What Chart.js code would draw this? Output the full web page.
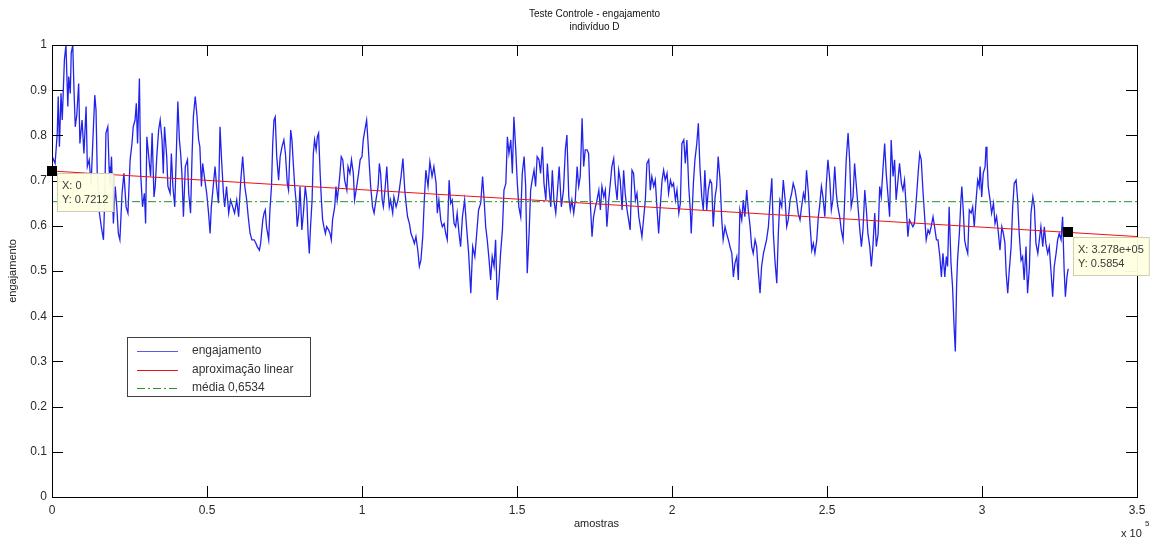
<!DOCTYPE html>
<html>
<head>
<meta charset="utf-8">
<title>Teste Controle - engajamento</title>
<script src="https://cdn.jsdelivr.net/npm/chart.js@4.4.1/dist/chart.umd.min.js"></script>
<style>
  html, body { margin: 0; padding: 0; background: #fff; }
  #grafico { display: block; }
</style>
</head>
<body>
<canvas id="grafico" width="1162" height="542"></canvas>
<script>
// [amostras em milhares, engajamento]
var engajamento = [
  [0,0.755],[1.0,0.738],[1.7,0.805],[2.0,0.886],[2.4,0.775],[2.9,0.893],[3.3,0.834],[4.0,0.967],[4.5,1.0],[5.1,0.864],
  [5.4,0.93],[5.9,0.893],[6.2,0.982],[6.7,1.0],[7.1,0.90],[7.5,0.819],[8.0,0.845],[8.6,0.915],[9.0,0.782],[9.7,0.834],
  [10.3,0.760],[11.0,0.864],[11.4,0.731],[12.0,0.746],[12.6,0.690],[13.1,0.775],[13.8,0.889],[14.2,0.856],[14.6,0.716],[15.3,0.628],
  [15.9,0.598],[16.6,0.569],[17.0,0.657],[17.4,0.805],[18.0,0.819],[18.4,0.731],[18.7,0.687],[19.2,0.753],[19.8,0.605],[20.4,0.687],
  [20.9,0.642],[21.4,0.583],[21.9,0.569],[22.6,0.672],[23.2,0.716],[23.9,0.642],[24.5,0.628],[25.2,0.746],[25.8,0.782],[26.2,0.819],
  [26.8,0.834],[27.2,0.871],[27.6,0.782],[28.2,0.926],[28.6,0.716],[29.2,0.642],[29.8,0.672],[30.2,0.605],[30.6,0.797],[31.3,0.746],
  [31.8,0.709],[32.3,0.805],[32.9,0.664],[33.3,0.687],[33.8,0.753],[34.4,0.812],[34.9,0.834],[35.5,0.790],[35.9,0.716],[36.3,0.819],
  [37.0,0.753],[37.4,0.687],[38.1,0.672],[38.5,0.760],[39.0,0.687],[39.6,0.642],[40.2,0.782],[40.6,0.875],[41.1,0.790],[41.5,0.760],
  [41.9,0.716],[42.4,0.620],[43.0,0.731],[43.7,0.746],[44.1,0.672],[44.7,0.628],[45.2,0.760],[45.6,0.841],[46.2,0.886],[46.7,0.849],
  [47.3,0.790],[47.7,0.775],[48.2,0.687],[48.6,0.738],[49.3,0.701],[49.9,0.672],[50.5,0.628],[51.0,0.583],[51.4,0.642],[52.0,0.687],
  [52.6,0.731],[53.1,0.687],[53.7,0.650],[54.2,0.819],[54.7,0.746],[55.3,0.672],[55.7,0.642],[56.3,0.687],[57.0,0.628],[57.6,0.657],
  [58.3,0.642],[58.9,0.628],[59.6,0.657],[60.2,0.620],[60.9,0.701],[61.5,0.753],[62.2,0.687],[62.8,0.657],[63.3,0.620],[63.9,0.583],
  [64.5,0.569],[65.2,0.569],[65.8,0.561],[66.2,0.554],[66.9,0.546],[67.3,0.561],[68.0,0.613],[68.4,0.628],[68.8,0.635],[69.2,0.598],
  [69.9,0.569],[70.3,0.635],[70.8,0.687],[71.2,0.782],[71.6,0.834],[72.0,0.841],[72.5,0.753],[73.1,0.701],[73.6,0.753],[74.2,0.775],
  [74.8,0.790],[75.3,0.760],[75.9,0.694],[76.3,0.679],[77.0,0.812],[77.4,0.790],[77.9,0.731],[78.3,0.687],[78.7,0.657],[79.1,0.598],
  [79.6,0.628],[80.0,0.687],[80.6,0.591],[81.1,0.628],[81.7,0.687],[82.2,0.657],[82.6,0.583],[83.0,0.539],[83.4,0.598],[83.9,0.657],
  [84.3,0.760],[84.7,0.790],[85.2,0.768],[85.6,0.797],[86.0,0.805],[86.5,0.716],[86.9,0.657],[87.3,0.613],[87.7,0.598],[88.2,0.583],
  [88.6,0.598],[89.2,0.591],[89.7,0.583],[90.1,0.569],[90.5,0.613],[91.2,0.642],[91.6,0.687],[92.0,0.657],[92.5,0.687],[92.9,0.716],
  [93.3,0.753],[93.8,0.746],[94.4,0.701],[95.1,0.679],[95.5,0.731],[96.1,0.716],[96.6,0.746],[97.2,0.716],[97.6,0.657],[98.3,0.687],
  [98.9,0.716],[99.4,0.746],[100.0,0.753],[100.4,0.790],[101.1,0.819],[101.5,0.834],[101.9,0.790],[102.4,0.731],[102.8,0.687],[103.4,0.642],
  [103.9,0.628],[104.5,0.657],[105.2,0.687],[105.6,0.738],[106.0,0.716],[106.5,0.657],[106.9,0.642],[107.5,0.687],[108.0,0.731],[108.4,0.679],
  [108.8,0.642],[109.2,0.657],[109.9,0.628],[110.3,0.664],[111.0,0.642],[111.6,0.657],
  [112.6,0.709],[113.2,0.749],[113.8,0.679],[114.2,0.650],[114.7,0.620],[115.3,0.605],[115.8,0.583],[116.4,0.572],[116.9,0.561],[117.4,0.576],
  [118.0,0.546],[118.5,0.510],[119.0,0.524],[119.6,0.576],[120.1,0.657],[120.6,0.723],[121.3,0.687],[121.9,0.742],[122.6,0.709],[123.2,0.731],
  [123.9,0.694],[124.3,0.628],[124.8,0.657],[125.4,0.613],[125.9,0.598],[126.5,0.605],[127.0,0.583],[127.5,0.569],[128.1,0.701],[128.6,0.650],
  [129.1,0.657],[129.7,0.605],[130.2,0.598],[130.7,0.628],[131.3,0.583],[131.8,0.554],[132.4,0.620],[133.1,0.657],[133.8,0.591],[134.4,0.539],
  [135.1,0.451],[135.7,0.554],[136.4,0.532],[137.0,0.583],[137.6,0.635],[138.3,0.650],[138.9,0.709],[139.4,0.657],[139.9,0.598],[140.4,0.569],
  [141.0,0.524],[141.5,0.480],[142.0,0.532],[142.6,0.510],[143.1,0.569],[143.6,0.436],[144.2,0.480],[144.7,0.539],[145.3,0.591],[145.8,0.679],
  [146.4,0.694],[146.9,0.797],[147.4,0.760],[148.0,0.790],[148.5,0.716],[149.0,0.841],[149.6,0.768],[150.1,0.694],[150.6,0.642],[151.2,0.620],
  [151.7,0.716],[152.3,0.753],[152.8,0.687],[153.3,0.495],[153.9,0.583],[154.4,0.679],[154.9,0.701],[155.5,0.723],[156.0,0.687],[156.5,0.753],
  [157.1,0.746],[157.6,0.716],[158.2,0.775],[158.7,0.694],[159.3,0.657],[159.8,0.738],[160.3,0.687],[160.9,0.642],[161.4,0.723],[161.9,0.657],
  [162.5,0.628],[163.0,0.672],[163.6,0.731],[164.3,0.642],[165.0,0.679],[165.6,0.768],[166.1,0.801],[166.7,0.664],[167.2,0.635],[167.7,0.657],
  [168.3,0.628],[168.8,0.657],[169.4,0.731],[169.9,0.687],[170.4,0.709],[171.0,0.838],[171.5,0.731],[172.0,0.768],[172.6,0.768],[173.1,0.760],
  [173.6,0.657],[174.2,0.576],[174.7,0.620],[175.3,0.642],[175.8,0.657],[176.4,0.679],[176.9,0.635],[177.4,0.687],[178.0,0.664],[178.5,0.679],
  [179.0,0.598],[179.6,0.657],[180.1,0.694],[180.6,0.731],[181.2,0.749],[181.7,0.694],[182.3,0.657],[182.8,0.723],[183.3,0.701],[183.9,0.635],
  [184.4,0.723],[184.9,0.672],[185.5,0.635],[186.0,0.613],[186.5,0.591],[187.1,0.723],[187.6,0.716],[188.2,0.657],[188.7,0.672],[189.3,0.620],
  [189.8,0.598],[190.3,0.576],[190.9,0.620],[191.4,0.657],[191.9,0.738],[192.5,0.746],[193.0,0.679],[193.5,0.709],[194.1,0.687],[194.6,0.701],
  [195.2,0.635],[195.7,0.583],[196.2,0.642],[196.8,0.701],[197.3,0.723],[197.8,0.701],[198.4,0.716],[198.9,0.672],[199.5,0.701],[200.0,0.687],
  [200.5,0.694],[201.1,0.657],[201.6,0.679],[202.2,0.628],[202.7,0.650],[203.2,0.782],[203.8,0.790],[204.3,0.738],[204.8,0.790],[205.4,0.687],
  [205.9,0.635],[206.2,0.583],[206.9,0.694],[207.4,0.746],[208.0,0.782],[208.5,0.827],[209.0,0.731],[209.6,0.664],[210.1,0.635],[210.6,0.723],
  [211.2,0.635],[211.7,0.679],[212.3,0.701],[212.8,0.694],[213.3,0.598],[213.9,0.664],[214.4,0.687],[214.9,0.753],[215.5,0.701],[216.0,0.620],
  [216.5,0.569],[217.1,0.598],[217.6,0.583],[218.2,0.569],[218.7,0.554],[219.3,0.539],[219.8,0.487],[220.3,0.517],[220.9,0.532],[221.4,0.480],
  [221.9,0.635],[222.5,0.613],[223.0,0.657],[223.5,0.620],[224.1,0.679],[224.6,0.635],[225.2,0.598],[225.7,0.554],[226.2,0.539],[226.8,0.569],
  [227.3,0.554],[227.8,0.502],[228.4,0.451],[228.9,0.510],[229.5,0.539],[230.0,0.554],[230.5,0.569],[231.1,0.598],[231.6,0.650],[232.2,0.705],
  [232.7,0.583],[233.2,0.524],[233.8,0.473],[234.3,0.583],[234.8,0.657],[235.4,0.642],[235.9,0.701],[236.5,0.657],[237.0,0.598],[237.5,0.613],
  [238.1,0.657],[238.6,0.672],[239.1,0.694],[239.7,0.679],[240.2,0.657],[240.7,0.628],[241.3,0.613],[241.8,0.642],[242.4,0.672],[242.9,0.657],
  [243.4,0.723],[244.0,0.672],[244.5,0.605],[245.1,0.546],[245.6,0.561],[246.1,0.539],[246.7,0.569],[247.2,0.620],[247.6,0.642],[248.2,0.687],
  [248.7,0.664],[249.3,0.620],[249.8,0.694],[250.3,0.746],[250.9,0.701],[251.4,0.635],[251.9,0.657],[252.5,0.731],[253.0,0.672],[253.5,0.642],
  [254.1,0.620],[254.6,0.591],[255.2,0.569],[255.7,0.657],[256.2,0.746],[256.8,0.805],[257.3,0.746],[257.8,0.642],[258.4,0.664],[258.9,0.738],
  [259.4,0.694],[260.0,0.642],[260.5,0.598],[261.1,0.554],[261.6,0.591],[262.2,0.679],[262.7,0.635],[263.2,0.583],[263.8,0.554],[264.3,0.510],
  [264.8,0.554],[265.4,0.628],[265.9,0.554],[266.5,0.583],[267.0,0.687],[267.5,0.664],[268.1,0.731],[268.6,0.782],[269.1,0.716],[269.7,0.664],
  [270.2,0.620],[270.7,0.790],[271.3,0.709],[271.8,0.746],[272.3,0.657],[272.9,0.701],[273.4,0.738],[274.0,0.694],[274.5,0.679],[275.0,0.701],
  [275.6,0.635],[276.1,0.576],[276.6,0.613],[277.2,0.605],[277.7,0.598],[278.2,0.605],[278.8,0.657],[279.4,0.716],[279.9,0.760],[280.4,0.746],
  [281.0,0.672],[281.5,0.620],[282.0,0.569],[282.6,0.591],[283.1,0.583],[283.6,0.598],[284.2,0.620],[284.7,0.598],[285.3,0.569],[285.8,0.569],
  [286.4,0.532],[286.9,0.487],[287.4,0.539],[288.0,0.487],[288.5,0.532],[288.9,0.510],[289.4,0.642],[290.0,0.517],[290.5,0.465],[291.0,0.376],
  [291.4,0.322],[291.8,0.465],[292.1,0.524],[292.7,0.583],[293.2,0.657],[293.5,0.687],[294.0,0.628],[294.4,0.569],[294.8,0.554],[295.4,0.539],
  [295.9,0.635],[296.5,0.628],[297.0,0.642],[297.5,0.598],[298.1,0.657],[298.6,0.701],[299.1,0.687],[299.4,0.731],[299.9,0.664],[300.4,0.716],
  [301.0,0.731],[301.3,0.775],[301.6,0.753],[302.0,0.687],[302.6,0.657],[303.1,0.628],[303.7,0.650],[304.2,0.605],[304.7,0.620],[305.3,0.583],
  [305.8,0.546],[306.4,0.598],[306.9,0.583],[307.4,0.561],[307.8,0.495],[308.3,0.451],[308.8,0.502],[309.4,0.554],[309.9,0.642],[310.4,0.694],
  [311.0,0.701],[311.5,0.657],[312.0,0.583],[312.6,0.524],[313.1,0.532],[313.6,0.480],[314.2,0.554],[314.7,0.451],[315.3,0.510],[315.8,0.628],
  [316.4,0.664],[316.9,0.642],[317.4,0.561],[318.0,0.539],[318.5,0.569],[319.0,0.598],[319.6,0.554],[320.1,0.598],[320.6,0.561],[321.2,0.539],
  [321.7,0.554],[322.3,0.495],[322.8,0.443],[323.3,0.510],[323.9,0.539],[324.4,0.569],[324.9,0.583],[325.5,0.569],[326.0,0.620],[326.5,0.502],
  [326.9,0.443],[327.4,0.487],[327.8,0.505]
];

// reta ajustada: pontos marcados no gráfico (amostras em milhares)
var ajusteLinear = [[0, 0.7212], [327.8, 0.5854]];
var media = 0.6534;

var xMaxMil = 350;
var xTicks = [0, 0.5, 1, 1.5, 2, 2.5, 3, 3.5];   // x 10^5
var yTicks = [0, 0.1, 0.2, 0.3, 0.4, 0.5, 0.6, 0.7, 0.8, 0.9, 1];
var escalaX = 1e5;

var titulo = ['Teste Controle - engajamento', 'indivíduo D'];
var rotuloX = 'amostras';
var rotuloY = 'engajamento';
var rotulos = ['engajamento', 'aproximação linear', 'média 0,6534'];

var fonte = '"Liberation Sans", Arial, Helvetica, sans-serif';

function pontos(lista){
    return lista.map(function(p){ return {x: p[0] * 1000, y: p[1]}; });
}

// prolonga a reta ate o fim do eixo x
var inclinacao = (ajusteLinear[1][1] - ajusteLinear[0][1]) / (ajusteLinear[1][0] - ajusteLinear[0][0]);
var retaAjuste = [
    {x: 0, y: ajusteLinear[0][1]},
    {x: xMaxMil * 1000, y: ajusteLinear[0][1] + inclinacao * xMaxMil}
];

function formataX(v){
    if (v === 0) return '0';
    var s = v.toExponential(3);
    return s.replace(/e([+-])(\d)$/, 'e$10$2');
}

var molduraPlugin = {
    id: 'moldura',
    afterDraw: function(chart){
        var ctx = chart.ctx;
        var area = chart.chartArea;
        var sx = chart.scales.x, sy = chart.scales.y;
        ctx.save();

        // caixa e marcas dos eixos (para dentro)
        ctx.strokeStyle = '#000';
        ctx.lineWidth = 1;
        ctx.setLineDash([]);
        ctx.beginPath();
        xTicks.forEach(function(t){
            var px = Math.round(sx.getPixelForValue(t * escalaX)) + 0.5;
            ctx.moveTo(px, area.bottom); ctx.lineTo(px, area.bottom - 11);
            ctx.moveTo(px, area.top); ctx.lineTo(px, area.top + 11);
        });
        yTicks.forEach(function(t){
            var py = Math.round(sy.getPixelForValue(t)) + 0.5;
            ctx.moveTo(area.left, py); ctx.lineTo(area.left + 11, py);
            ctx.moveTo(area.right, py); ctx.lineTo(area.right - 11, py);
        });
        ctx.stroke();
        ctx.strokeRect(area.left + 0.5, area.top + 0.5, area.right - area.left, area.bottom - area.top);

        var cx = (area.left + area.right) / 2;

        // titulo
        ctx.fillStyle = '#111';
        ctx.textAlign = 'center';
        ctx.textBaseline = 'middle';
        ctx.font = '10px ' + fonte;
        ctx.fillText(titulo[0], cx, 14);
        ctx.fillText(titulo[1], cx, 27);

        // rotulos dos eixos
        ctx.fillStyle = '#222';
        ctx.font = '11px ' + fonte;
        ctx.fillText(rotuloX, cx + 2, 524);
        ctx.save();
        ctx.translate(13, (area.top + area.bottom) / 2);
        ctx.rotate(-Math.PI / 2);
        ctx.fillText(rotuloY, 0, 0);
        ctx.restore();

        // multiplicador do eixo x
        ctx.textAlign = 'left';
        ctx.font = '11px ' + fonte;
        ctx.fillText('x 10', area.right - 16, 534);
        ctx.font = '8px ' + fonte;
        ctx.fillText('5', area.right + 8, 524);

        // legenda
        var legX = area.left + 75, legY = area.top + 292, legW = 183, legH = 59;
        ctx.fillStyle = '#fff';
        ctx.fillRect(legX, legY, legW, legH);
        ctx.strokeStyle = '#404040';
        ctx.strokeRect(legX + 0.5, legY + 0.5, legW, legH);
        ctx.font = '12px ' + fonte;
        ctx.textBaseline = 'middle';
        chart.data.datasets.forEach(function(ds, i){
            if (!ds.naLegenda) return;
            var ly = legY + 14 + i * 18.5;
            ctx.strokeStyle = ds.corLegenda || ds.borderColor;
            ctx.lineWidth = 1;
            ctx.setLineDash(ds.borderDash || []);
            ctx.beginPath();
            ctx.moveTo(legX + 10, Math.round(ly) + 0.5);
            ctx.lineTo(legX + 51, Math.round(ly) + 0.5);
            ctx.stroke();
            ctx.setLineDash([]);
            ctx.fillStyle = '#333';
            ctx.fillText(ds.label, legX + 65, ly);
        });

        // caixas dos pontos marcados
        var iMarc = chart.data.datasets.findIndex(function(d){ return d.marcadores; });
        var meta = chart.getDatasetMeta(iMarc);
        var dados = chart.data.datasets[iMarc].data;
        ctx.font = '11px ' + fonte;
        meta.data.forEach(function(el, i){
            var l1 = 'X: ' + formataX(dados[i].x);
            var l2 = 'Y: ' + dados[i].y.toFixed(4);
            var w = Math.max(ctx.measureText(l1).width, ctx.measureText(l2).width) + 10;
            var bx = Math.round(el.x) + 5, by = Math.round(el.y) + (i === 0 ? 2 : 5);
            ctx.fillStyle = 'rgba(255,255,226,0.95)';
            ctx.fillRect(bx, by, w, 38);
            ctx.strokeStyle = '#cfcfb0';
            ctx.strokeRect(bx + 0.5, by + 0.5, w, 38);
            ctx.fillStyle = '#3a3a3a';
            ctx.textAlign = 'left';
            ctx.fillText(l1, bx + 5, by + 13);
            ctx.fillText(l2, bx + 5, by + 27);
        });
        // marcadores por cima da caixa
        ctx.fillStyle = '#000';
        meta.data.forEach(function(el){
            ctx.fillRect(Math.round(el.x) - 5, Math.round(el.y) - 5, 10, 10);
        });

        ctx.restore();
    }
};

var ctx = document.getElementById('grafico').getContext('2d');
var chart = new Chart(ctx, {
    type: 'line',
    data: {
        datasets: [{
            label: rotulos[0],
            data: pontos(engajamento),
            borderColor: 'rgba(10,10,235,0.9)',
            corLegenda: '#5a5ae6',
            borderWidth: 1.3,
            pointRadius: 0,
            tension: 0,
            order: 4,
            naLegenda: true
        }, {
            label: rotulos[1],
            data: retaAjuste,
            borderColor: '#ee1111',
            borderWidth: 1,
            pointRadius: 0,
            order: 3,
            naLegenda: true
        }, {
            label: rotulos[2],
            data: [{x: 0, y: media}, {x: xMaxMil * 1000, y: media}],
            borderColor: '#2a8f2a',
            borderWidth: 1,
            borderDash: [8, 3, 2, 3],
            pointRadius: 0,
            order: 2,
            naLegenda: true
        }, {
            label: 'marcadores',
            data: pontos(ajusteLinear),
            showLine: false,
            pointRadius: 0,
            order: 1,
            marcadores: true
        }]
    },
    options: {
        responsive: false,
        devicePixelRatio: 1,
        animation: false,
        events: [],
        layout: { padding: { top: 45, right: 25, left: 0, bottom: 0 } },
        plugins: {
            legend: { display: false },
            title: { display: false },
            tooltip: { enabled: false }
        },
        scales: {
            x: {
                type: 'linear',
                min: 0,
                max: xMaxMil * 1000,
                grid: { display: false, drawTicks: false },
                border: { display: false },
                ticks: {
                    autoSkip: false,
                    maxRotation: 0,
                    padding: 6,
                    color: '#2a2a2a',
                    font: { family: fonte, size: 12 },
                    callback: function(v){ return String(+(v / escalaX).toFixed(1)); }
                },
                afterBuildTicks: function(scale){
                    scale.ticks = xTicks.map(function(v){ return {value: v * escalaX}; });
                },
                afterFit: function(scale){ scale.height = 45; }
            },
            y: {
                min: 0,
                max: 1,
                grid: { display: false, drawTicks: false },
                border: { display: false },
                ticks: {
                    autoSkip: false,
                    padding: 5,
                    color: '#2a2a2a',
                    font: { family: fonte, size: 12 },
                    callback: function(v){ return String(Math.round(v * 10) / 10); }
                },
                afterBuildTicks: function(scale){
                    scale.ticks = yTicks.map(function(v){ return {value: v}; });
                },
                afterFit: function(scale){ scale.width = 52; }
            }
        }
    },
    plugins: [molduraPlugin]
});
</script>
</body>
</html>
